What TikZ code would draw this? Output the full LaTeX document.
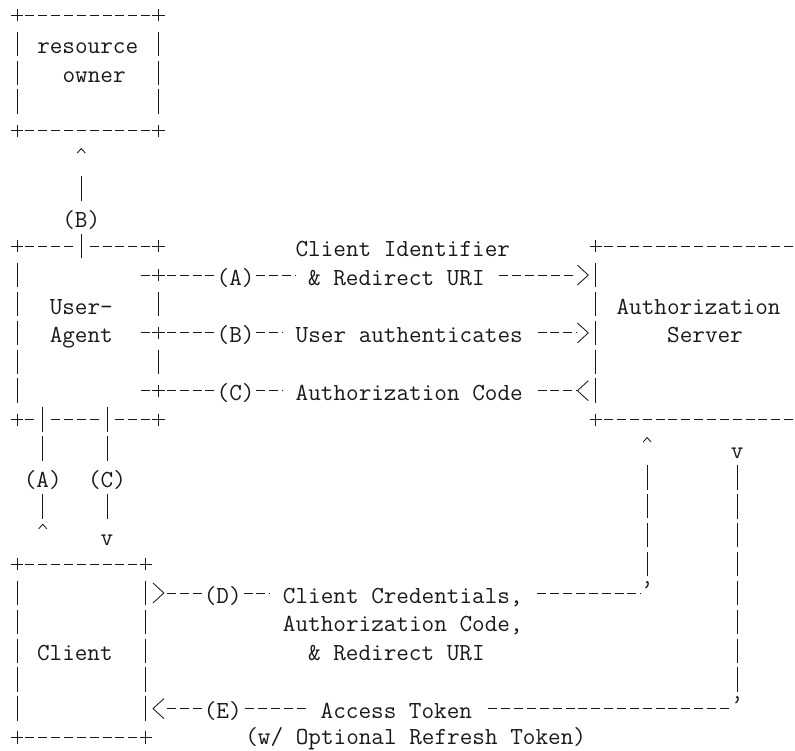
\documentclass[tikz,border=0pt]{standalone}
\colorlet{ink}{black!90}
\tikzset{
  mono/.style={font=\ttfamily\fontsize{24.5pt}{28.9pt}\selectfont, text=ink, inner ysep=4.45pt, outer sep=0pt, text height=20pt, text depth=0pt},
  tag/.style={mono, inner xsep=0pt},
  note/.style={mono, inner xsep=12.86pt},
  hd/.style={draw=ink, line width=0.85pt, dash pattern=on 9pt off 3.86pt, dash phase=10.93pt},
  vd/.style={draw=ink, line width=0.85pt, dash pattern=on 24.5pt off 4.4pt, dash phase=26.65pt},
  cross/.style={draw=ink, line width=0.85pt},
  tipr/.style={tag, minimum width=12.86pt, path picture={\draw[ink, line width=0.85pt] ([shift={(1pt,-4.5pt)}]path picture bounding box.north west) -- ([xshift=-1pt]path picture bounding box.east) -- ([shift={(1pt,4.5pt)}]path picture bounding box.south west);}},
  tipl/.style={tag, minimum width=12.86pt, path picture={\draw[ink, line width=0.85pt] ([shift={(-1pt,-4.5pt)}]path picture bounding box.north east) -- ([xshift=1pt]path picture bounding box.west) -- ([shift={(-1pt,4.5pt)}]path picture bounding box.south east);}},
  tipu/.style={tag, minimum width=12.86pt, path picture={\draw[ink, line width=0.85pt] ([shift={(-4pt,-8pt)}]path picture bounding box.north) -- ([yshift=-3.5pt]path picture bounding box.north) -- ([shift={(4pt,-8pt)}]path picture bounding box.north);}},
}
\begin{document}
\begin{tikzpicture}[x=12.86pt, y=-28.9pt]
\useasboundingbox (-1.322,-0.519) rectangle (60.498,25.467);

% box texts
\node[tag] (ro1) at (5.5,1) {resource};
\node[tag] (ro2) at (6,2) {owner};
\node[tag] (ua1) at (5,10) {User-};
\node[tag] (ua2) at (5,11) {Agent};
\node[tag] (as1) at (53,10) {Authorization};
\node[tag] (as2) at (53.5,11) {Server};
\node[tag] (cl) at (4.5,22) {Client};

% box frames
\draw[hd] (-0.5,0) -- (11.5,0);
\draw[hd] (-0.5,4) -- (11.5,4);
\draw[vd] (0,0.5) -- (0,3.5);
\draw[vd] (11,0.5) -- (11,3.5);

\draw[hd] (-0.5,8) -- (4.5,8);
\draw[hd] (5.5,8) -- (11.5,8);
\draw[hd] (-0.5,14) -- (1.5,14);
\draw[hd] (2.5,14) -- (6.5,14);
\draw[hd] (7.5,14) -- (11.5,14);
\draw[vd] (0,8.5) -- (0,13.5);
\draw[vd] (11,9.5) -- (11,10.5);
\draw[vd] (11,11.5) -- (11,12.5);

\draw[hd] (44.5,8) -- (60.498,8);
\draw[hd] (44.5,14) -- (60.498,14);
\draw[vd] (45,8.5) -- (45,13.5);

\draw[hd] (-0.5,19) -- (10.5,19);
\draw[hd] (-0.5,25) -- (10.5,25);
\draw[vd] (0,19.5) -- (0,24.5);
\draw[vd] (10,19.5) -- (10,24.5);

\foreach \c/\r in {0/0,11/0,0/4,11/4,0/8,11/8,0/14,11/14,11/9,11/11,11/13,45/8,45/14,0/19,10/19,0/25,10/25}
  \draw[cross] (\c-0.47,\r) -- (\c+0.47,\r) (\c,\r-0.21) -- (\c,\r+0.21);

% (B) user-agent -> resource owner
\coordinate (ua-n) at (5,8.5);
\node[tag] (b2) at (5,7) {(B)};
\node[tipu] (b2tip) at (5,5) {};
\draw[vd] (ua-n) -- (b2);
\draw[vd] (b2) -- (b2tip);

% (A) (C) between user-agent and client
\coordinate (ua-sa) at (2,13.5);
\coordinate (ua-sc) at (7,13.5);
\node[tag] (a2) at (2,16) {(A)};
\node[tag] (c2) at (7,16) {(C)};
\node[tipu] (a2tip) at (2,18) {};
\node[tag] (c2tip) at (7,18) {v};
\draw[vd] (ua-sa) -- (a2);
\draw[vd] (a2) -- (a2tip);
\draw[vd] (ua-sc) -- (c2);
\draw[vd] (c2) -- (c2tip);

% user-agent <-> authorization server
\node[tag] (ci) at (30,8) {Client Identifier};
\coordinate (ua-a) at (9.5,9);
\coordinate (ua-b) at (9.5,11);
\coordinate (ua-c) at (9.5,13);
\node[tag] (a1) at (17,9) {(A)};
\node[note] (a1t) at (29.5,9) {\& Redirect URI};
\node[tipr] (a1tip) at (44,9) {};
\node[tag] (b1) at (17,11) {(B)};
\node[note] (b1t) at (30.5,11) {User authenticates};
\node[tipr] (b1tip) at (44,11) {};
\node[tag] (c1) at (17,13) {(C)};
\node[note] (c1t) at (30.5,13) {Authorization Code};
\node[tipl] (c1tip) at (44,13) {};
\draw[hd] (ua-a) -- (a1);
\draw[hd] (a1) -- (a1t);
\draw[hd] (a1t) -- (a1tip);
\draw[hd] (ua-b) -- (b1);
\draw[hd] (b1) -- (b1t);
\draw[hd] (b1t) -- (b1tip);
\draw[hd] (ua-c) -- (c1);
\draw[hd] (c1) -- (c1t);
\draw[hd] (c1t) -- (c1tip);

% (D) client -> authorization server
\node[tipr] (d1tip) at (11,20) {};
\node[tag] (d1) at (16,20) {(D)};
\node[note] (d1t) at (30,20) {Client Credentials,};
\node[tag] (d1t2) at (30,21) {Authorization Code,};
\node[tag] (d1t3) at (29.5,22) {\& Redirect URI};
\node[tag] (d1q) at (49,20) {\raisebox{7pt}{\textquoteright}};
\node[tipu] (d1up) at (49,15) {};
\draw[hd] (d1tip) -- (d1);
\draw[hd] (d1) -- (d1t);
\draw[hd] (d1t) -- (d1q);
\draw[vd] (d1q) -- (d1up);

% (E) authorization server -> client
\node[tag] (e1down) at (56,15) {v};
\node[tag] (e1q) at (56,24) {\raisebox{7pt}{\textquoteright}};
\node[note] (e1t) at (29.5,24) {Access Token};
\node[tag] (e1) at (16,24) {(E)};
\node[tipl] (e1tip) at (11,24) {};
\node[tag] (e1t2) at (31,24.88) {(w/ Optional Refresh Token)};
\draw[vd] (e1down) -- (e1q);
\draw[hd] (e1q) -- (e1t);
\draw[hd] (e1t) -- (e1);
\draw[hd] (e1) -- (e1tip);

\end{tikzpicture}
\end{document}
